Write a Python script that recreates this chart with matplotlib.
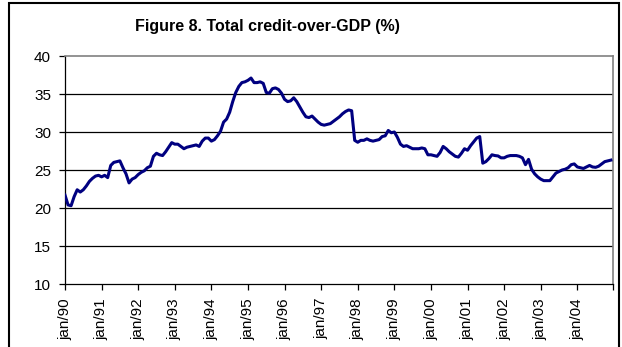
import matplotlib
matplotlib.use("Agg")
import matplotlib.pyplot as plt
from matplotlib.patches import Rectangle

plt.rcParams['font.family'] = ['Liberation Sans', 'DejaVu Sans']

title = "Figure 8. Total credit-over-GDP (%)"

# monthly values, jan/90 .. dec/04
credit_gdp = [
    21.7, 20.4, 20.3, 21.5, 22.4, 22.1, 22.4, 22.9, 23.5, 23.9, 24.2, 24.3,   # 1990
    24.1, 24.3, 24.0, 25.6, 26.0, 26.1, 26.2, 25.3, 24.5, 23.3, 23.8, 24.0,   # 1991
    24.4, 24.7, 24.9, 25.3, 25.5, 26.8, 27.2, 27.0, 26.9, 27.4, 28.0, 28.6,   # 1992
    28.4, 28.4, 28.1, 27.8, 28.0, 28.1, 28.2, 28.3, 28.1, 28.8, 29.2, 29.2,   # 1993
    28.8, 29.0, 29.5, 30.1, 31.3, 31.7, 32.6, 34.0, 35.2, 36.0, 36.5, 36.6,   # 1994
    36.8, 37.1, 36.5, 36.5, 36.6, 36.4, 35.2, 35.1, 35.7, 35.8, 35.6, 35.1,   # 1995
    34.3, 34.0, 34.1, 34.5, 34.0, 33.3, 32.6, 32.0, 31.9, 32.1, 31.7, 31.3,   # 1996
    31.0, 30.9, 31.0, 31.1, 31.4, 31.7, 32.0, 32.4, 32.7, 32.9, 32.8, 28.9,   # 1997
    28.65, 28.9, 28.9, 29.1, 28.9, 28.8, 28.9, 29.0, 29.4, 29.5, 30.2, 29.9,  # 1998
    30.0, 29.3, 28.4, 28.1, 28.2, 28.0, 27.8, 27.8, 27.8, 27.9, 27.8, 27.0,   # 1999
    27.0, 26.9, 26.8, 27.3, 28.1, 27.8, 27.4, 27.1, 26.8, 26.7, 27.2, 27.8,   # 2000
    27.6, 28.2, 28.7, 29.2, 29.4, 25.9, 26.1, 26.5, 27.0, 26.9, 26.85, 26.6,  # 2001
    26.6, 26.8, 26.9, 26.9, 26.9, 26.8, 26.6, 25.7, 26.4, 25.1, 24.5, 24.1,   # 2002
    23.8, 23.6, 23.6, 23.6, 24.1, 24.6, 24.8, 25.0, 25.1, 25.3, 25.7, 25.8,   # 2003
    25.4, 25.3, 25.2, 25.4, 25.6, 25.4, 25.35, 25.5, 25.8, 26.1, 26.2, 26.3,  # 2004
]
year_labels = ["jan/90", "jan/91", "jan/92", "jan/93", "jan/94", "jan/95", "jan/96",
               "jan/97", "jan/98", "jan/99", "jan/00", "jan/01", "jan/02", "jan/03", "jan/04"]
y_ticks = [10, 15, 20, 25, 30, 35, 40]

W, H = 622, 347
fig = plt.figure(figsize=(W / 100, H / 100), dpi=100)
ax = fig.add_axes([65 / W, 1 - 284 / H, (613 - 65) / W, (284 - 56) / H])

months = list(range(len(credit_gdp)))
ax.plot(months, credit_gdp, color='#000080', linewidth=2.2, solid_joinstyle='round', zorder=3)

ax.set_ylim(10, 40)
ax.set_xlim(0, len(credit_gdp) - 0.3)
ax.set_yticks(y_ticks)
ax.set_yticklabels([str(v) for v in y_ticks])
xt = [12 * i for i in range(len(year_labels))] + [len(credit_gdp) - 0.3]
ax.set_xticks(xt)
ax.set_xticklabels(year_labels + [""], rotation=90)

for v in y_ticks[1:-1]:
    ax.axhline(v, color='black', linewidth=0.9, zorder=1)

ax.tick_params(axis='both', direction='out', length=4, width=0.9, color='black',
               labelsize=11, labelcolor='black')
ax.tick_params(axis='y', pad=6)
ax.tick_params(axis='x', pad=6)

ax.spines['left'].set_color('black')
ax.spines['bottom'].set_color('black')
ax.spines['left'].set_linewidth(0.9)
ax.spines['bottom'].set_linewidth(0.9)
ax.spines['top'].set_color('#808080')
ax.spines['right'].set_color('#808080')
ax.spines['top'].set_linewidth(1.2)
ax.spines['right'].set_linewidth(1.2)

fig.text(267 / W, 1 - 27 / H, title, ha='center', va='center',
         fontsize=11.5, fontweight='bold', color='black')

# outer chart-area border
fig.patches.append(Rectangle((9 / W, -0.05), (619 - 9) / W, 1 - 3 / H + 0.05,
                             transform=fig.transFigure, fill=False,
                             edgecolor='black', linewidth=1.5, zorder=10))

fig.savefig("out.png", dpi=100)
